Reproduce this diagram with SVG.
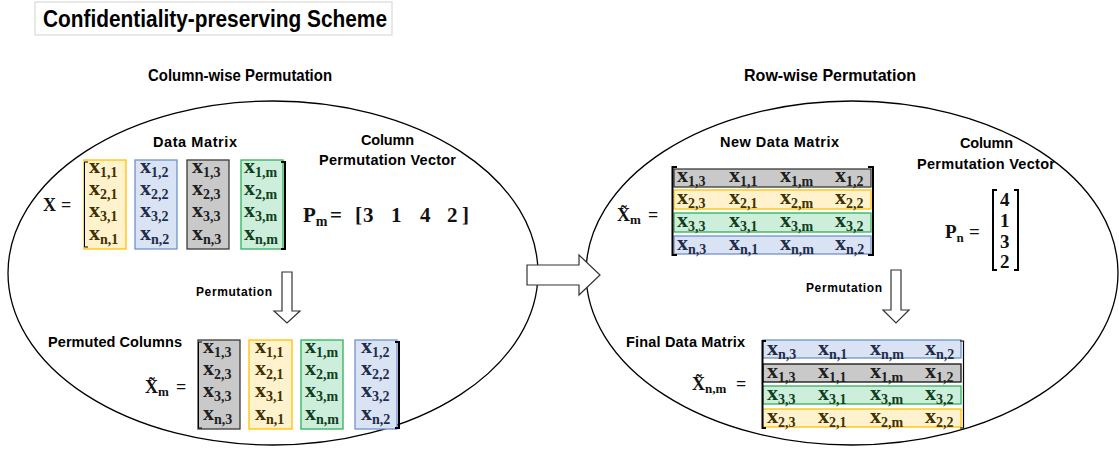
<svg xmlns="http://www.w3.org/2000/svg" width="1119" height="453" viewBox="0 0 1119 453">
<style>
.lbl{font-family:"Liberation Sans",Arial,sans-serif;font-weight:bold;font-size:14.5px;fill:#000}
.m{font-family:"Liberation Serif","Times New Roman",serif;font-weight:bold;font-size:22px}
.s{font-size:14px}
.eq{font-family:"Liberation Serif","Times New Roman",serif;font-weight:bold;font-size:19px;fill:#111}
.yc{fill:#FFF2CC;stroke:#FFC000;stroke-width:1.3}
.bc{fill:#DAE3F3;stroke:#6F93CB;stroke-width:1.3}
.gc{fill:#C9C9C9;stroke:#3A3A3A;stroke-width:1.3}
.nc{fill:#CDEEDA;stroke:#2DB35A;stroke-width:1.3}
.yt{fill:#403100}.bt{fill:#1F2D4D}.gt{fill:#1E1E1E}.nt{fill:#0E4020}
.br{fill:none;stroke:#000;stroke-width:2}
.ell{fill:none;stroke:#000;stroke-width:1.3}
.arr{fill:#fff;stroke:#333;stroke-width:1.2}
</style>

<g id="title">
<rect x="35" y="2" width="357" height="33" fill="#fff" stroke="#D9D9D9" stroke-width="1.2"/>
<text class="lbl" x="43" y="27" style="font-size:23px" textLength="344" lengthAdjust="spacingAndGlyphs">Confidentiality-preserving Scheme</text>
</g>

<g id="column-wise">
<ellipse class="ell" cx="273" cy="273" rx="265" ry="172"/>
<text class="lbl" x="148" y="81" style="font-size:16.5px" textLength="184" lengthAdjust="spacingAndGlyphs">Column-wise Permutation</text>
<text class="lbl" x="153" y="147" textLength="84">Data Matrix</text>
<text class="lbl" x="361" y="145" textLength="53">Column</text>
<text class="lbl" x="319" y="165" textLength="137">Permutation Vector</text>
<text class="eq" x="43" y="211" style="font-size:18px">X</text>
<text class="eq" x="61" y="211" style="font-size:18px">=</text>
</g>

<g id="data-matrix">
<rect class="yc" x="84" y="160" width="42" height="89"/>
<rect class="bc" x="135" y="160" width="42" height="89"/>
<rect class="gc" x="187" y="160" width="42" height="89"/>
<rect class="nc" x="241" y="160" width="42" height="89"/>
<path class="br" style="stroke-width:1" d="M88,162H84.5V247H88"/>
<path class="br" d="M281,162H285V249H281"/>
<text class="m yt" x="89" y="173">x<tspan class="s" dy="4">1,1</tspan></text>
<text class="m yt" x="89" y="195">x<tspan class="s" dy="4">2,1</tspan></text>
<text class="m yt" x="89" y="217">x<tspan class="s" dy="4">3,1</tspan></text>
<text class="m yt" x="89" y="240">x<tspan class="s" dy="4">n,1</tspan></text>
<text class="m bt" x="140" y="173">x<tspan class="s" dy="4">1,2</tspan></text>
<text class="m bt" x="140" y="195">x<tspan class="s" dy="4">2,2</tspan></text>
<text class="m bt" x="140" y="217">x<tspan class="s" dy="4">3,2</tspan></text>
<text class="m bt" x="140" y="240">x<tspan class="s" dy="4">n,2</tspan></text>
<text class="m gt" x="192" y="173">x<tspan class="s" dy="4">1,3</tspan></text>
<text class="m gt" x="192" y="195">x<tspan class="s" dy="4">2,3</tspan></text>
<text class="m gt" x="192" y="217">x<tspan class="s" dy="4">3,3</tspan></text>
<text class="m gt" x="192" y="240">x<tspan class="s" dy="4">n,3</tspan></text>
<text class="m nt" x="244" y="173">x<tspan class="s" dy="4">1,m</tspan></text>
<text class="m nt" x="244" y="195">x<tspan class="s" dy="4">2,m</tspan></text>
<text class="m nt" x="244" y="217">x<tspan class="s" dy="4">3,m</tspan></text>
<text class="m nt" x="244" y="240">x<tspan class="s" dy="4">n,m</tspan></text>
</g>

<g id="pm-vector">
<text class="eq" x="303" y="222" style="font-size:21px">P<tspan style="font-size:14px" dy="4">m</tspan></text>
<text class="eq" x="330" y="222" style="font-size:21px">=</text>
<text class="eq" x="355" y="222" style="font-size:21px">[</text>
<text class="eq" x="363" y="222" style="font-size:21px">3</text>
<text class="eq" x="391" y="222" style="font-size:21px">1</text>
<text class="eq" x="420" y="222" style="font-size:21px">4</text>
<text class="eq" x="447" y="222" style="font-size:21px">2</text>
<text class="eq" x="462" y="222" style="font-size:21px">]</text>
</g>

<g id="permuted-columns">
<text class="lbl" x="48" y="347" textLength="134">Permuted Columns</text>
<text class="eq" x="145" y="393" style="font-size:18px">X&#x303;<tspan style="font-size:13px" dy="3">m</tspan></text>
<text class="eq" x="176" y="393" style="font-size:18px">=</text>
<rect class="gc" x="198" y="340" width="42" height="89"/>
<rect class="yc" x="249" y="340" width="43" height="89"/>
<rect class="nc" x="301" y="340" width="42" height="89"/>
<rect class="bc" x="355" y="340" width="42" height="89"/>
<path class="br" style="stroke-width:1" d="M202,342H198.5V428H202"/>
<path class="br" d="M395,342H399V428H395"/>
<text class="m gt" x="203" y="353">x<tspan class="s" dy="4">1,3</tspan></text>
<text class="m gt" x="203" y="375">x<tspan class="s" dy="4">2,3</tspan></text>
<text class="m gt" x="203" y="397">x<tspan class="s" dy="4">3,3</tspan></text>
<text class="m gt" x="203" y="420">x<tspan class="s" dy="4">n,3</tspan></text>
<text class="m yt" x="255" y="353">x<tspan class="s" dy="4">1,1</tspan></text>
<text class="m yt" x="255" y="375">x<tspan class="s" dy="4">2,1</tspan></text>
<text class="m yt" x="255" y="397">x<tspan class="s" dy="4">3,1</tspan></text>
<text class="m yt" x="255" y="420">x<tspan class="s" dy="4">n,1</tspan></text>
<text class="m nt" x="305" y="353">x<tspan class="s" dy="4">1,m</tspan></text>
<text class="m nt" x="305" y="375">x<tspan class="s" dy="4">2,m</tspan></text>
<text class="m nt" x="305" y="397">x<tspan class="s" dy="4">3,m</tspan></text>
<text class="m nt" x="305" y="420">x<tspan class="s" dy="4">n,m</tspan></text>
<text class="m bt" x="361" y="353">x<tspan class="s" dy="4">1,2</tspan></text>
<text class="m bt" x="361" y="375">x<tspan class="s" dy="4">2,2</tspan></text>
<text class="m bt" x="361" y="397">x<tspan class="s" dy="4">3,2</tspan></text>
<text class="m bt" x="361" y="420">x<tspan class="s" dy="4">n,2</tspan></text>
</g>

<g id="row-wise">
<ellipse class="ell" cx="852" cy="273" rx="266" ry="172"/>
<text class="lbl" x="744" y="81" style="font-size:16.5px" textLength="172" lengthAdjust="spacingAndGlyphs">Row-wise Permutation</text>
<text class="lbl" x="720" y="147" textLength="119">New Data Matrix</text>
<text class="lbl" x="960" y="148" textLength="53">Column</text>
<text class="lbl" x="917" y="169" textLength="138">Permutation Vector</text>
</g>

<g id="new-data-matrix">
<text class="eq" x="617" y="221" style="font-size:18px">X&#x303;<tspan style="font-size:13px" dy="3">m</tspan></text>
<text class="eq" x="648" y="221" style="font-size:18px">=</text>
<rect class="gc" x="674" y="169" width="197" height="18"/>
<rect class="yc" x="674" y="190" width="197" height="19"/>
<rect class="nc" x="674" y="213" width="197" height="19"/>
<rect class="bc" x="674" y="236" width="197" height="18"/>
<path class="br" d="M677,167H672.5V255H677"/>
<path class="br" d="M868,167H873V255H868"/>
<text class="m gt" x="677" y="182">x<tspan class="s" dy="4">1,3</tspan></text>
<text class="m gt" x="729" y="182">x<tspan class="s" dy="4">1,1</tspan></text>
<text class="m gt" x="780" y="182">x<tspan class="s" dy="4">1,m</tspan></text>
<text class="m gt" x="835" y="182">x<tspan class="s" dy="4">1,2</tspan></text>
<text class="m yt" x="677" y="204">x<tspan class="s" dy="4">2,3</tspan></text>
<text class="m yt" x="729" y="204">x<tspan class="s" dy="4">2,1</tspan></text>
<text class="m yt" x="780" y="204">x<tspan class="s" dy="4">2,m</tspan></text>
<text class="m yt" x="835" y="204">x<tspan class="s" dy="4">2,2</tspan></text>
<text class="m nt" x="677" y="227">x<tspan class="s" dy="4">3,3</tspan></text>
<text class="m nt" x="729" y="227">x<tspan class="s" dy="4">3,1</tspan></text>
<text class="m nt" x="780" y="227">x<tspan class="s" dy="4">3,m</tspan></text>
<text class="m nt" x="835" y="227">x<tspan class="s" dy="4">3,2</tspan></text>
<text class="m bt" x="677" y="250">x<tspan class="s" dy="4">n,3</tspan></text>
<text class="m bt" x="729" y="250">x<tspan class="s" dy="4">n,1</tspan></text>
<text class="m bt" x="780" y="250">x<tspan class="s" dy="4">n,m</tspan></text>
<text class="m bt" x="835" y="250">x<tspan class="s" dy="4">n,2</tspan></text>
</g>

<g id="pn-vector">
<text class="eq" x="945" y="238">P<tspan style="font-size:13px" dy="4">n</tspan></text>
<text class="eq" x="969" y="238">=</text>
<path class="br" d="M997,190H993V270H997"/>
<path class="br" d="M1014,190H1018V270H1014"/>
<text class="eq" x="1000" y="206">4</text>
<text class="eq" x="1000" y="227">1</text>
<text class="eq" x="1000" y="248">3</text>
<text class="eq" x="1000" y="268">2</text>
</g>

<g id="final-data-matrix">
<text class="lbl" x="626" y="347" textLength="119">Final Data Matrix</text>
<text class="eq" x="692" y="390" style="font-size:18px">X&#x303;<tspan style="font-size:13px" dy="3">n,m</tspan></text>
<text class="eq" x="736" y="390" style="font-size:18px">=</text>
<rect class="bc" x="763" y="340" width="198" height="18"/>
<rect class="gc" x="763" y="364" width="198" height="18" style="stroke:#111"/>
<rect class="nc" x="763" y="386" width="198" height="18"/>
<rect class="yc" x="763" y="409" width="198" height="18"/>
<path class="br" d="M766,341H762.5V428H766"/>
<path class="br" style="stroke-width:1.2" d="M960,341H963.5V428H960"/>
<text class="m bt" x="767" y="355">x<tspan class="s" dy="4">n,3</tspan></text>
<text class="m bt" x="818" y="355">x<tspan class="s" dy="4">n,1</tspan></text>
<text class="m bt" x="870" y="355">x<tspan class="s" dy="4">n,m</tspan></text>
<text class="m bt" x="925" y="355">x<tspan class="s" dy="4">n,2</tspan></text>
<text class="m gt" x="767" y="378">x<tspan class="s" dy="4">1,3</tspan></text>
<text class="m gt" x="818" y="378">x<tspan class="s" dy="4">1,1</tspan></text>
<text class="m gt" x="870" y="378">x<tspan class="s" dy="4">1,m</tspan></text>
<text class="m gt" x="925" y="378">x<tspan class="s" dy="4">1,2</tspan></text>
<text class="m nt" x="767" y="400">x<tspan class="s" dy="4">3,3</tspan></text>
<text class="m nt" x="818" y="400">x<tspan class="s" dy="4">3,1</tspan></text>
<text class="m nt" x="870" y="400">x<tspan class="s" dy="4">3,m</tspan></text>
<text class="m nt" x="925" y="400">x<tspan class="s" dy="4">3,2</tspan></text>
<text class="m yt" x="767" y="423">x<tspan class="s" dy="4">2,3</tspan></text>
<text class="m yt" x="818" y="423">x<tspan class="s" dy="4">2,1</tspan></text>
<text class="m yt" x="870" y="423">x<tspan class="s" dy="4">2,m</tspan></text>
<text class="m yt" x="925" y="423">x<tspan class="s" dy="4">2,2</tspan></text>
</g>

<g id="connectors">
<polygon class="arr" points="527,265 579,265 579,255 600,275 579,295 579,285 527,285"/>
<polygon class="arr" points="282,272 292,272 292,311 300,311 287,323 274,311 282,311"/>
<text class="lbl" x="196" y="296" style="font-size:12px" textLength="76">Permutation</text>
<polygon class="arr" points="891,270 901,270 901,310 909,310 896,323 883,310 891,310"/>
<text class="lbl" x="806" y="292" style="font-size:12px" textLength="76">Permutation</text>
</g>
</svg>
